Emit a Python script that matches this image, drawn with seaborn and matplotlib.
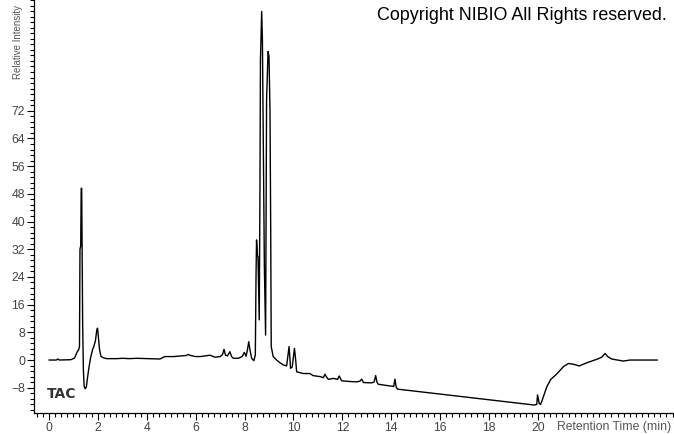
import pandas as pd
import seaborn as sns
import matplotlib.pyplot as plt
from matplotlib.ticker import MultipleLocator

# Retention time (min) and relative intensity
time_min = [
    0.00, 0.30, 0.37, 0.42, 0.90, 1.05, 1.15, 1.22, 1.25, 1.27, 1.30, 1.32, 1.34, 1.36,
    1.38, 1.41, 1.44, 1.48, 1.53, 1.58, 1.64, 1.70, 1.78, 1.84, 1.90, 1.96, 1.99, 2.02,
    2.07, 2.13, 2.25, 2.36, 2.77, 3.00, 3.30, 3.59, 4.10, 4.54, 4.74, 5.10, 5.43, 5.60,
    5.70, 5.80, 6.00, 6.18, 6.40, 6.58, 6.80, 7.00, 7.10, 7.16, 7.22, 7.30, 7.40, 7.47,
    7.54, 7.74, 7.90, 7.99, 8.06, 8.12, 8.17, 8.22, 8.29, 8.38, 8.44, 8.47, 8.49, 8.53,
    8.55, 8.60, 8.63, 8.65, 8.70, 8.73, 8.77, 8.81, 8.86, 8.88, 8.90, 8.96, 9.00, 9.04,
    9.07, 9.09, 9.17, 9.31, 9.45, 9.58, 9.72, 9.77, 9.82, 9.86, 9.88, 9.95, 10.00, 10.04,
    10.09, 10.13, 10.40, 10.67, 10.80, 11.10, 11.22, 11.29, 11.36, 11.43, 11.63, 11.80,
    11.87, 11.97, 12.30, 12.58, 12.72, 12.79, 12.86, 13.20, 13.30, 13.36, 13.42, 13.47,
    13.95, 14.10, 14.15, 14.20, 14.25, 19.85, 19.95, 19.98, 20.05, 20.10, 20.15, 20.36,
    20.52, 20.77, 21.04, 21.24, 21.44, 21.69, 21.99, 22.40, 22.60, 22.74, 22.85, 23.01,
    23.49, 23.76, 24.88,
]
intensity = [
    0.0, 0.0, 0.3, 0.0, 0.1, 0.6, 2.3, 3.0, 4.0, 32.0, 33.0, 49.6, 49.6, 28.0,
    10.0, -3.0, -7.5, -8.3, -7.8, -5.0, -2.0, 0.5, 2.9, 4.0, 5.5, 8.8, 9.2, 7.0,
    3.0, 1.0, 0.6, 0.4, 0.4, 0.5, 0.4, 0.5, 0.4, 0.3, 1.0, 1.0, 1.2, 1.3,
    1.6, 1.3, 1.0, 1.0, 1.2, 1.4, 0.8, 1.0, 1.6, 3.1, 1.4, 1.2, 2.4, 1.0,
    0.5, 0.5, 1.0, 2.2, 1.1, 3.0, 5.3, 3.0, 0.5, -0.2, 1.5, 25.0, 34.7, 30.0,
    29.9, 11.6, 50.0, 86.7, 100.7, 92.5, 59.8, 27.0, 7.2, 40.0, 75.0, 89.1, 87.7, 72.0,
    36.6, 3.9, 1.0, 0.0, -0.8, -1.4, -1.7, 1.0, 3.9, 0.0, -2.4, -2.0, 1.0, 3.4,
    0.0, -3.4, -3.9, -3.9, -4.5, -4.8, -5.1, -4.1, -5.0, -5.6, -5.3, -5.6,
    -4.6, -6.0, -6.2, -6.3, -6.1, -5.5, -6.5, -6.6, -6.3, -4.5, -6.5, -7.0,
    -7.5, -7.6, -5.5, -7.8, -8.4, -13.0, -12.8, -10.1, -12.6, -12.8, -12.0, -7.7,
    -5.6, -4.0, -1.9, -1.0, -1.2, -1.7, -0.8, 0.2, 0.8, 1.9, 1.0, 0.3,
    -0.3, 0.0, 0.0,
]

x_ticks = [0, 2, 4, 6, 8, 10, 12, 14, 16, 18, 20]
y_ticks = [-8, 0, 8, 16, 24, 32, 40, 48, 56, 64, 72]

df = pd.DataFrame({"time": time_min, "intensity": intensity})

sns.set_style("ticks")
plt.rcParams["font.family"] = ["Liberation Sans", "DejaVu Sans"]

W, H = 674, 434
fig = plt.figure(figsize=(W / 100, H / 100), dpi=100)
# axes box in pixels: left 34, bottom line at 413, runs to right and top edges
ax = fig.add_axes([34 / W, (H - 413) / H, (W - 34) / W, 413 / H])

sns.lineplot(data=df, x="time", y="intensity", sort=False, estimator=None,
             color="black", linewidth=1.0, ax=ax)

ax.set_xlim(-0.61, 25.56)
ax.set_ylim(-15.3, 104)
ax.set_xticks(x_ticks)
ax.set_yticks(y_ticks)
ax.xaxis.set_minor_locator(MultipleLocator(0.25))
ax.yaxis.set_minor_locator(MultipleLocator(1.6))
ax.tick_params(axis="both", which="major", length=5, width=0.8, color="black",
               labelsize=8.8, labelcolor="#444444", pad=1.5)
ax.tick_params(axis="both", which="minor", length=3, width=0.8, color="black")
ax.set_xlabel("")
ax.set_ylabel("")
for side in ["top", "right"]:
    ax.spines[side].set_visible(False)
for side in ["left", "bottom"]:
    ax.spines[side].set_color("black")
    ax.spines[side].set_linewidth(0.9)

# labels placed as in the instrument export
fig.text(18 / W, 1 - 79 / H, "Relative Intensity", rotation=90, ha="center",
         va="bottom", fontsize=7.0, color="#555555")
fig.text(557 / W, 1 - 427 / H, "Retention Time (min)", ha="left", va="center",
         fontsize=8.8, color="#555555")
fig.text(47 / W, 1 - 394 / H, "TAC", ha="left", va="center",
         fontsize=10, fontweight="bold", color="#333333",
         family=["DejaVu Sans"])
fig.text(377 / W, 1 - 15 / H, "Copyright NIBIO All Rights reserved.", ha="left",
         va="center", fontsize=12.9, color="black")

fig.savefig("out.png", dpi=100)
